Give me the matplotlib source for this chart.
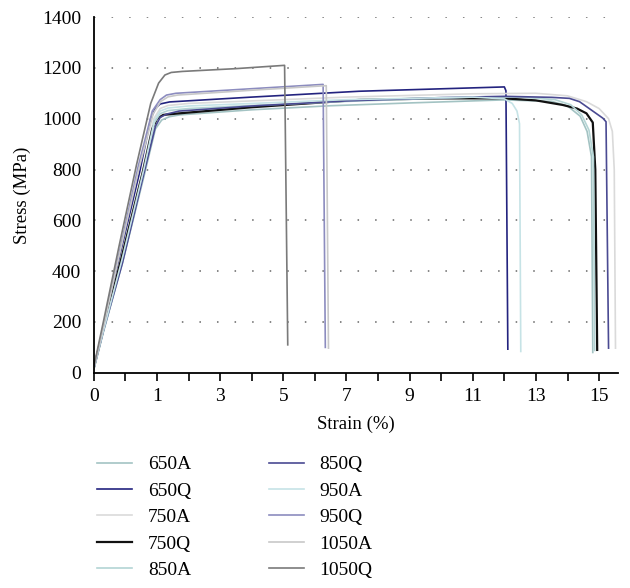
import matplotlib
matplotlib.use("Agg")
import matplotlib.pyplot as plt

plt.rcParams['font.family'] = ['Liberation Serif', 'DejaVu Serif']

# x positions are in axis units: label "0" at 0, label L (L>=1) at L+1
tick_pos = [0, 2, 4, 6, 8, 10, 12, 14, 16]
tick_labels = ['0', '1', '3', '5', '7', '9', '11', '13', '15']
minor_pos = [1, 3, 5, 7, 9, 11, 13, 15]
y_ticks = [0, 200, 400, 600, 800, 1000, 1200, 1400]

x_650A = [0, 0.3, 0.9, 1.6, 1.95, 2.15, 2.4, 2.72, 5, 7.5, 10, 13, 14.5, 15.0, 15.4, 15.62, 15.76, 15.8]
y_650A = [15, 160, 430, 780, 960, 995, 1008, 1015, 1035, 1051, 1062, 1074, 1068, 1050, 1010, 950, 850, 80]

x_650Q = [0, 0.3, 0.8, 1.45, 1.8, 1.95, 2.1, 2.4, 5, 8.4, 13.0, 13.05, 13.11]
y_650Q = [20, 175, 450, 790, 1000, 1040, 1058, 1066, 1085, 1108, 1125, 1110, 93]

x_750A = [0, 0.3, 0.85, 1.55, 1.9, 2.1, 2.35, 3, 8, 12, 14, 15.0, 15.6, 16.0, 16.3, 16.42, 16.48, 16.52]
y_750A = [20, 170, 445, 800, 1000, 1040, 1052, 1060, 1085, 1098, 1100, 1090, 1067, 1040, 1000, 950, 800, 97]

x_750Q = [0, 0.3, 0.85, 1.55, 1.85, 2.0, 2.2, 2.7, 5, 8.4, 11, 13, 14.0, 14.85, 15.3, 15.6, 15.8, 15.88, 15.94]
y_750Q = [20, 170, 440, 790, 960, 1000, 1015, 1021, 1045, 1074, 1080, 1080, 1072, 1054, 1040, 1021, 985, 800, 90]

x_850A = [0, 0.3, 0.9, 1.6, 1.92, 2.1, 2.35, 3, 5, 8, 12, 13.5, 14.6, 15.1, 15.45, 15.68, 15.82, 15.86]
y_850A = [15, 162, 435, 790, 985, 1020, 1032, 1040, 1052, 1068, 1085, 1085, 1075, 1055, 1015, 955, 850, 88]

x_850Q = [0, 0.3, 0.9, 1.65, 1.95, 2.1, 2.3, 2.7, 5, 8, 11, 13, 14.5, 15.06, 15.38, 16.12, 16.22, 16.3]
y_850Q = [20, 165, 430, 818, 970, 1005, 1018, 1030, 1050, 1070, 1083, 1088, 1084, 1080, 1067, 1002, 988, 97]

x_950A = [0, 0.3, 0.88, 1.58, 1.92, 2.1, 2.35, 3, 8, 12, 13.0, 13.25, 13.4, 13.48, 13.52]
y_950A = [18, 165, 440, 800, 995, 1030, 1042, 1050, 1075, 1085, 1078, 1060, 1030, 980, 84]

x_950Q = [0, 0.3, 0.8, 1.4, 1.85, 2.1, 2.3, 2.6, 5, 7.26, 7.33]
y_950Q = [20, 185, 470, 810, 1030, 1075, 1093, 1100, 1118, 1135, 100]

x_1050A = [0, 0.3, 0.8, 1.42, 1.88, 2.12, 2.35, 2.65, 5, 7.36, 7.43]
y_1050A = [20, 180, 460, 800, 1020, 1068, 1086, 1093, 1112, 1130, 97]

x_1050Q = [0, 0.3, 0.8, 1.35, 1.8, 2.05, 2.25, 2.45, 2.8, 4.5, 6.04, 6.14]
y_1050Q = [25, 200, 500, 818, 1060, 1140, 1172, 1182, 1186, 1197, 1210, 110]

series = [
    ('650A', x_650A, y_650A, '#a3c3c3', 1.2),
    ('650Q', x_650Q, y_650Q, '#23237f', 1.2),
    ('750A', x_750A, y_750A, '#dadada', 1.2),
    ('750Q', x_750Q, y_750Q, '#111111', 1.6),
    ('850A', x_850A, y_850A, '#b3d4d4', 1.2),
    ('850Q', x_850Q, y_850Q, '#4a4a92', 1.2),
    ('950A', x_950A, y_950A, '#c6e3e6', 1.2),
    ('950Q', x_950Q, y_950Q, '#8c8cbf', 1.2),
    ('1050A', x_1050A, y_1050A, '#c8c8c8', 1.2),
    ('1050Q', x_1050Q, y_1050Q, '#7a7a7a', 1.2),
]

fig = plt.figure(figsize=(6.3, 5.88), dpi=100)
ax = fig.add_axes([0.149, 0.366, 0.832, 0.605])

for yt in y_ticks[1:]:
    ax.axhline(yt, color='#666666', linestyle=(0, (1, 10.5)), linewidth=1.1, zorder=0)

for name, xs, ys, c, lw in series:
    ax.plot(xs, ys, color=c, linewidth=lw, label=name)

ax.set_xlim(0, 16.6)
ax.set_ylim(0, 1400)
ax.set_xticks(tick_pos)
ax.set_xticklabels(tick_labels)
ax.set_xticks(minor_pos, minor=True)
ax.set_yticks(y_ticks)
ax.tick_params(axis='x', which='both', direction='out', length=6, width=1.2, labelsize=14, pad=5)
ax.tick_params(axis='y', length=0, labelsize=14, pad=9)
for s in ['top', 'right']:
    ax.spines[s].set_visible(False)
for s in ['left', 'bottom']:
    ax.spines[s].set_linewidth(1.3)

ax.set_xlabel('Strain (%)', fontsize=13.5, labelpad=8)
ax.set_ylabel('Stress (MPa)', fontsize=13.5, labelpad=8)

fig.legend(loc='upper left', bbox_to_anchor=(0.142, 0.238), ncol=2, frameon=False,
           fontsize=14, handlelength=1.8, handletextpad=0.8, columnspacing=4.0,
           labelspacing=0.45, borderaxespad=0)

fig.savefig('out.png', dpi=100)
